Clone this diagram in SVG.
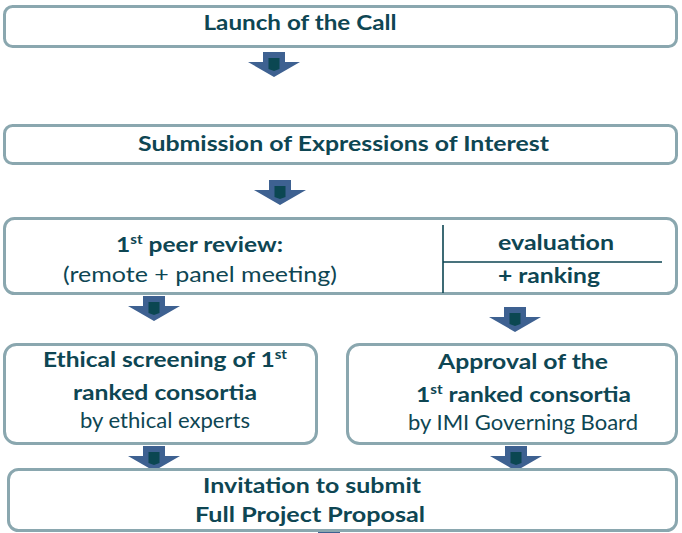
<svg xmlns="http://www.w3.org/2000/svg" width="682" height="533" viewBox="0 0 682 533">
<style>
.box{fill:#fff;stroke:#8AA7AF;stroke-width:3}
.t{font-family:Lato,"Open Sans","Liberation Sans",sans-serif;fill:#0E4653;font-size:21px}
.b{font-weight:bold}
.sup{font-size:13px}
.div{stroke:#0E4653;stroke-width:1.6;fill:none}
</style>
<defs>
<g id="arr">
<polygon points="-11,0 11,0 11,10 26,10 0,25 -26,10 -11,10" fill="#3E6191"/>
<polygon points="-5.5,6 5.5,6 5.5,17 0,19 -5.5,17" fill="#0B4752"/>
</g>
</defs>
<g id="connectors">
<use href="#arr" transform="translate(274,52)"/>
<use href="#arr" transform="translate(280,180)"/>
<use href="#arr" transform="translate(154,296)"/>
<use href="#arr" transform="translate(515,307)"/>
<use href="#arr" transform="translate(154,446)"/>
<use href="#arr" transform="translate(516,446)"/>
<rect x="318" y="529" width="22" height="4" fill="#3E6191"/>
</g>
<g id="launch">
<rect class="box" x="4.5" y="6.5" width="672" height="40" rx="8"/>
<text class="t b" x="300" y="30" text-anchor="middle" textLength="193" lengthAdjust="spacingAndGlyphs">Launch of the Call</text>
</g>
<g id="submission">
<rect class="box" x="4.5" y="125.5" width="672" height="38" rx="8"/>
<text class="t b" x="343.5" y="151" text-anchor="middle" textLength="411" lengthAdjust="spacingAndGlyphs">Submission of Expressions of Interest</text>
</g>
<g id="review">
<rect class="box" x="4.5" y="218.5" width="672" height="75" rx="10"/>
<text class="t b" x="116" y="252" textLength="167" lengthAdjust="spacingAndGlyphs">1<tspan class="sup" dy="-8">st</tspan><tspan dy="8"> peer review:</tspan></text>
<text class="t" x="200" y="282" text-anchor="middle" textLength="274" lengthAdjust="spacingAndGlyphs">(remote + panel meeting)</text>
<path class="div" d="M443,225 V293 M443,262 H662"/>
<text class="t b" x="556" y="250" text-anchor="middle" textLength="116" lengthAdjust="spacingAndGlyphs">evaluation</text>
<text class="t b" x="549" y="283" text-anchor="middle" textLength="102" lengthAdjust="spacingAndGlyphs">+ ranking</text>
</g>
<g id="ethical">
<rect class="box" x="4.5" y="344.5" width="312" height="99" rx="12"/>
<text class="t b" x="43" y="367" textLength="244" lengthAdjust="spacingAndGlyphs">Ethical screening of 1<tspan class="sup" dy="-8">st</tspan></text>
<text class="t b" x="165" y="400" text-anchor="middle" textLength="184" lengthAdjust="spacingAndGlyphs">ranked consortia</text>
<text class="t" x="165" y="428" text-anchor="middle" textLength="170" lengthAdjust="spacingAndGlyphs">by ethical experts</text>
</g>
<g id="approval">
<rect class="box" x="347.5" y="344.5" width="329" height="99" rx="12"/>
<text class="t b" x="523" y="369" text-anchor="middle" textLength="170" lengthAdjust="spacingAndGlyphs">Approval of the</text>
<text class="t b" x="416" y="402" textLength="215" lengthAdjust="spacingAndGlyphs">1<tspan class="sup" dy="-8">st</tspan><tspan dy="8"> ranked consortia</tspan></text>
<text class="t" x="523" y="430" text-anchor="middle" textLength="230" lengthAdjust="spacingAndGlyphs">by IMI Governing Board</text>
</g>
<g id="invitation">
<rect class="box" x="8.5" y="469.5" width="668" height="61" rx="10"/>
<text class="t b" x="312" y="493" text-anchor="middle" textLength="218" lengthAdjust="spacingAndGlyphs">Invitation to submit</text>
<text class="t b" x="310" y="522" text-anchor="middle" textLength="230" lengthAdjust="spacingAndGlyphs">Full Project Proposal</text>
</g>
</svg>
